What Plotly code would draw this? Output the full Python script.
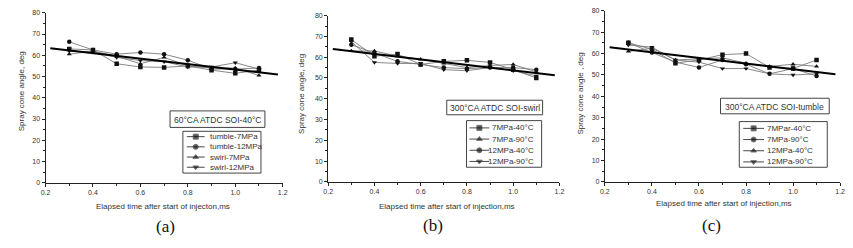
import plotly.graph_objects as go

# ---------------- data ----------------
t = [0.3, 0.4, 0.5, 0.6, 0.7, 0.8, 0.9, 1.0, 1.1]

a_names = ["tumble-7MPa", "tumble-12MPa", "swirl-7MPa", "swirl-12MPa"]
a_tumble7 = [63.0, 62.5, 56.0, 54.5, 54.3, 55.0, 53.0, 51.5, 53.0]
a_tumble12 = [66.3, 62.5, 60.5, 61.3, 60.5, 57.7, 53.5, 53.5, 54.0]
a_swirl7 = [60.5, 62.0, 59.5, 56.0, 59.0, 55.0, 54.0, 54.0, 50.5]
a_swirl12 = [62.0, 61.5, 59.0, 57.5, 57.0, 54.5, 54.5, 56.5, 53.5]
a_fit_x = [0.22, 1.18]
a_fit_y = [63.3, 51.0]

b_names = ["7MPa-40°C", "7MPa-90°C", "12MPa-40°C", "12MPa-90°C"]
b_7_40 = [68.5, 60.5, 61.5, 56.5, 58.0, 58.5, 57.5, 54.0, 50.0]
b_7_90 = [63.0, 63.0, 60.5, 59.0, 57.0, 55.0, 56.0, 56.5, 53.0]
b_12_40 = [66.0, 62.0, 58.0, 56.5, 55.0, 54.5, 55.0, 55.0, 54.0]
b_12_90 = [67.5, 57.5, 57.0, 57.0, 54.0, 53.5, 55.0, 53.5, 51.0]
b_fit_x = [0.22, 1.18]
b_fit_y = [64.0, 51.3]

c_names = ["7MPar-40°C", "7MPa-90°C", "12MPa-40°C", "12MPa-90°C"]
c_7_40 = [65.0, 62.0, 55.5, 57.0, 59.5, 60.0, 53.5, 53.0, 57.0]
c_7_90 = [65.0, 60.5, 56.0, 53.5, 57.0, 55.0, 50.5, 53.0, 49.5]
c_12_40 = [61.0, 62.5, 57.0, 57.5, 58.0, 55.5, 54.0, 55.0, 54.0]
c_12_90 = [64.0, 63.0, 57.0, 56.0, 53.0, 53.0, 50.5, 50.0, 50.5]
c_fit_x = [0.22, 1.18]
c_fit_y = [63.0, 50.3]

x_ticks = [0.2, 0.4, 0.6, 0.8, 1.0, 1.2]
x_tick_labels = ["0.2", "0.4", "0.6", "0.8", "1.0", "1.2"]
y_ticks = [0, 10, 20, 30, 40, 50, 60, 70, 80]

# ---------------- style ----------------
W, H = 853, 248
FONT = "Liberation Sans, Arial, sans-serif"
LINE_C = "#7a7a7a"
MARK_C = "#111111"
a_symbols = ["square", "circle", "triangle-up", "triangle-down"]
b_symbols = ["square", "triangle-up", "circle", "triangle-down"]
c_symbols = ["square", "circle", "triangle-up", "triangle-down"]

panels = [
    dict(series=[a_tumble7, a_tumble12, a_swirl7, a_swirl12], names=a_names, symbols=a_symbols,
         fx=a_fit_x, fy=a_fit_y, px=(41, 281), py=(9, 184)),
    dict(series=[b_7_40, b_7_90, b_12_40, b_12_90], names=b_names, symbols=b_symbols,
         fx=b_fit_x, fy=b_fit_y, px=(327, 561), py=(12, 183)),
    dict(series=[c_7_40, c_7_90, c_12_40, c_12_90], names=c_names, symbols=c_symbols,
         fx=c_fit_x, fy=c_fit_y, px=(607, 845), py=(7, 183)),
]

fig = go.Figure()
layout = dict(width=W, height=H, margin=dict(l=0, r=0, t=0, b=0),
              paper_bgcolor="white", plot_bgcolor="rgba(0,0,0,0)", showlegend=False,
              font=dict(family=FONT, color="#333"))

for i, p in enumerate(panels):
    k = "" if i == 0 else str(i + 1)
    xa, ya = "x" + k, "y" + k
    for s, nm, sym in zip(p["series"], p["names"], p["symbols"]):
        fig.add_trace(go.Scatter(x=t, y=s, name=nm, mode="lines+markers", xaxis=xa, yaxis=ya,
                                 line=dict(color=LINE_C, width=0.9),
                                 marker=dict(symbol=sym, size=4.5, color=MARK_C)))
    fig.add_trace(go.Scatter(x=p["fx"], y=p["fy"], mode="lines", xaxis=xa, yaxis=ya,
                             line=dict(color="black", width=2), name="fit"))
    x0, x1 = p["px"]
    y0, y1 = p["py"]
    common = dict(showline=True, linecolor="#222", linewidth=1, ticks="outside", ticklen=3,
                  tickcolor="#222", tickfont=dict(size=7, color="#333"), showgrid=False,
                  zeroline=False, fixedrange=True, mirror=False)
    layout["xaxis" + k] = dict(domain=[x0 / W, x1 / W], range=[0.2, 1.2], anchor=ya,
                               tickvals=x_ticks, ticktext=x_tick_labels,
                               minor=dict(ticks="outside", ticklen=2, dtick=0.1, tickcolor="#222"),
                               **common)
    layout["yaxis" + k] = dict(domain=[1 - y1 / H, 1 - y0 / H], range=[0, 80], anchor=xa,
                               tickvals=y_ticks,
                               minor=dict(ticks="outside", ticklen=2, dtick=5, tickcolor="#222"),
                               **common)

# overlay pixel-space axis for legends / labels
layout["xaxis4"] = dict(domain=[0, 1], range=[0, W], visible=False, fixedrange=True, anchor="y4")
layout["yaxis4"] = dict(domain=[0, 1], range=[H, 0], visible=False, fixedrange=True, anchor="x4")

shapes = []
annotations = []


def box(xa0, ya0, xa1, ya1):
    shapes.append(dict(type="rect", xref="x4", yref="y4", x0=xa0, y0=ya0, x1=xa1, y1=ya1,
                       line=dict(color="#444", width=1), fillcolor="rgba(0,0,0,0)"))


def text(x, y, s, size=8, xanchor="center", angle=0, family=FONT, color="#333"):
    annotations.append(dict(xref="x4", yref="y4", x=x, y=y, text=s, showarrow=False,
                            xanchor=xanchor, yanchor="middle", textangle=angle,
                            font=dict(size=size, family=family, color=color)))


legend_specs = [
    dict(title="60°CA ATDC SOI-40°C", tbox=(167, 110, 263, 127), lbox=(180, 131, 259, 174),
         items_y=[136.5, 147, 157.5, 168], sx=(184, 202), tx=205, tanchor="left"),
    dict(title="300°CA ATDC SOI-swirl", tbox=(447, 99, 544, 114), lbox=(467, 120, 543, 168),
         items_y=[127.5, 139, 150.5, 162], sx=(470, 490), tx=537, tanchor="right"),
    dict(title="300°CA ATDC SOI-tumble", tbox=(724, 97, 834, 113), lbox=(743, 121, 832, 168),
         items_y=[128, 139.5, 151, 162.5], sx=(747, 768), tx=769, tanchor="left"),
]

for p, L in zip(panels, legend_specs):
    box(*L["tbox"])
    text((L["tbox"][0] + L["tbox"][2]) / 2, (L["tbox"][1] + L["tbox"][3]) / 2 + 0.5, L["title"], size=8.5)
    box(*L["lbox"])
    sx0, sx1 = L["sx"]
    for nm, sym, yy in zip(p["names"], p["symbols"], L["items_y"]):
        fig.add_trace(go.Scatter(x=[sx0, (sx0 + sx1) / 2, sx1], y=[yy, yy, yy], mode="lines+markers",
                                 xaxis="x4", yaxis="y4", line=dict(color="#333", width=0.9),
                                 marker=dict(symbol=sym, size=[0, 5, 0], color=MARK_C),
                                 hoverinfo="skip"))
        text(L["tx"], yy, nm, size=8, xanchor=L["tanchor"])

# axis titles and panel labels
xtitles = ["Elapsed time after start of injecton,ms", "Elapsed time after start of injection,ms",
           "Elapsed time after start of injection,ms"]
ytitles = ["Spray cone angle, deg", "Spray cone angle, deg", "Spray cone angle , deg"]
plabels = ["(a)", "(b)", "(c)"]
xt_pos = [(160, 208), (447, 208), (728, 205)]
yt_pos = [(17, 90), (300, 92), (582, 92)]
pl_pos = [(162, 229), (433, 228), (715, 228)]
for i in range(3):
    text(*xt_pos[i], xtitles[i], size=8)
    text(*yt_pos[i], ytitles[i], size=8, angle=-90)
    text(*pl_pos[i], plabels[i], size=17, family="Liberation Serif, Times New Roman, serif", color="#111")

layout["shapes"] = shapes
layout["annotations"] = annotations
fig.update_layout(**layout)
fig.write_html("out.html")
